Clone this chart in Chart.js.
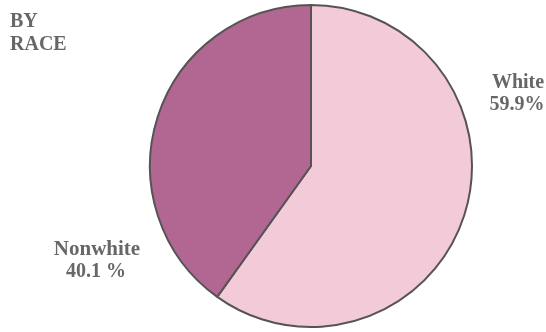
<!DOCTYPE html>
<html>
<head>
<meta charset="utf-8">
<script src="https://cdn.jsdelivr.net/npm/chart.js@4/dist/chart.umd.min.js"></script>
<style>
  html, body { margin: 0; padding: 0; background: #ffffff; }
  #wrap { position: relative; width: 546px; height: 332px; }
</style>
</head>
<body>
<div id="wrap"><canvas id="c" width="546" height="332"></canvas></div>
<script>
const categories = ["White", "Nonwhite"];
const shares = [59.9, 40.1];
const shareLabels = ["59.9%", "40.1 %"];
const sliceColors = ["#f2cad8", "#b26792"];
const title = ["BY", "RACE"];

const labelPlugin = {
  id: 'labels',
  afterDraw(chart) {
    const ctx = chart.ctx;
    ctx.save();
    ctx.fillStyle = '#676767';
    ctx.font = 'bold 20px "Liberation Serif", "DejaVu Serif", serif';
    ctx.textBaseline = 'alphabetic';
    ctx.textAlign = 'left';
    ctx.fillText(title[0], 10, 27);
    ctx.fillText(title[1], 10, 50);
    ctx.textAlign = 'center';
    ctx.fillText(categories[0], 518, 88);
    ctx.fillText(shareLabels[0], 517, 110);
    ctx.font = 'bold 21px "Liberation Serif", "DejaVu Serif", serif';
    ctx.fillText(categories[1], 97, 255);
    ctx.font = 'bold 20px "Liberation Serif", "DejaVu Serif", serif';
    ctx.fillText(shareLabels[1], 96, 277);
    ctx.restore();
  }
};

new Chart(document.getElementById('c'), {
  type: 'pie',
  data: {
    labels: categories,
    datasets: [{
      data: shares,
      backgroundColor: sliceColors,
      borderColor: '#575355',
      borderWidth: 2
    }]
  },
  options: {
    responsive: false,
    animation: false,
    layout: { padding: { left: 149, right: 73, top: 3, bottom: 3 } },
    plugins: { legend: { display: false }, tooltip: { enabled: false } }
  },
  plugins: [labelPlugin]
});
</script>
</body>
</html>
